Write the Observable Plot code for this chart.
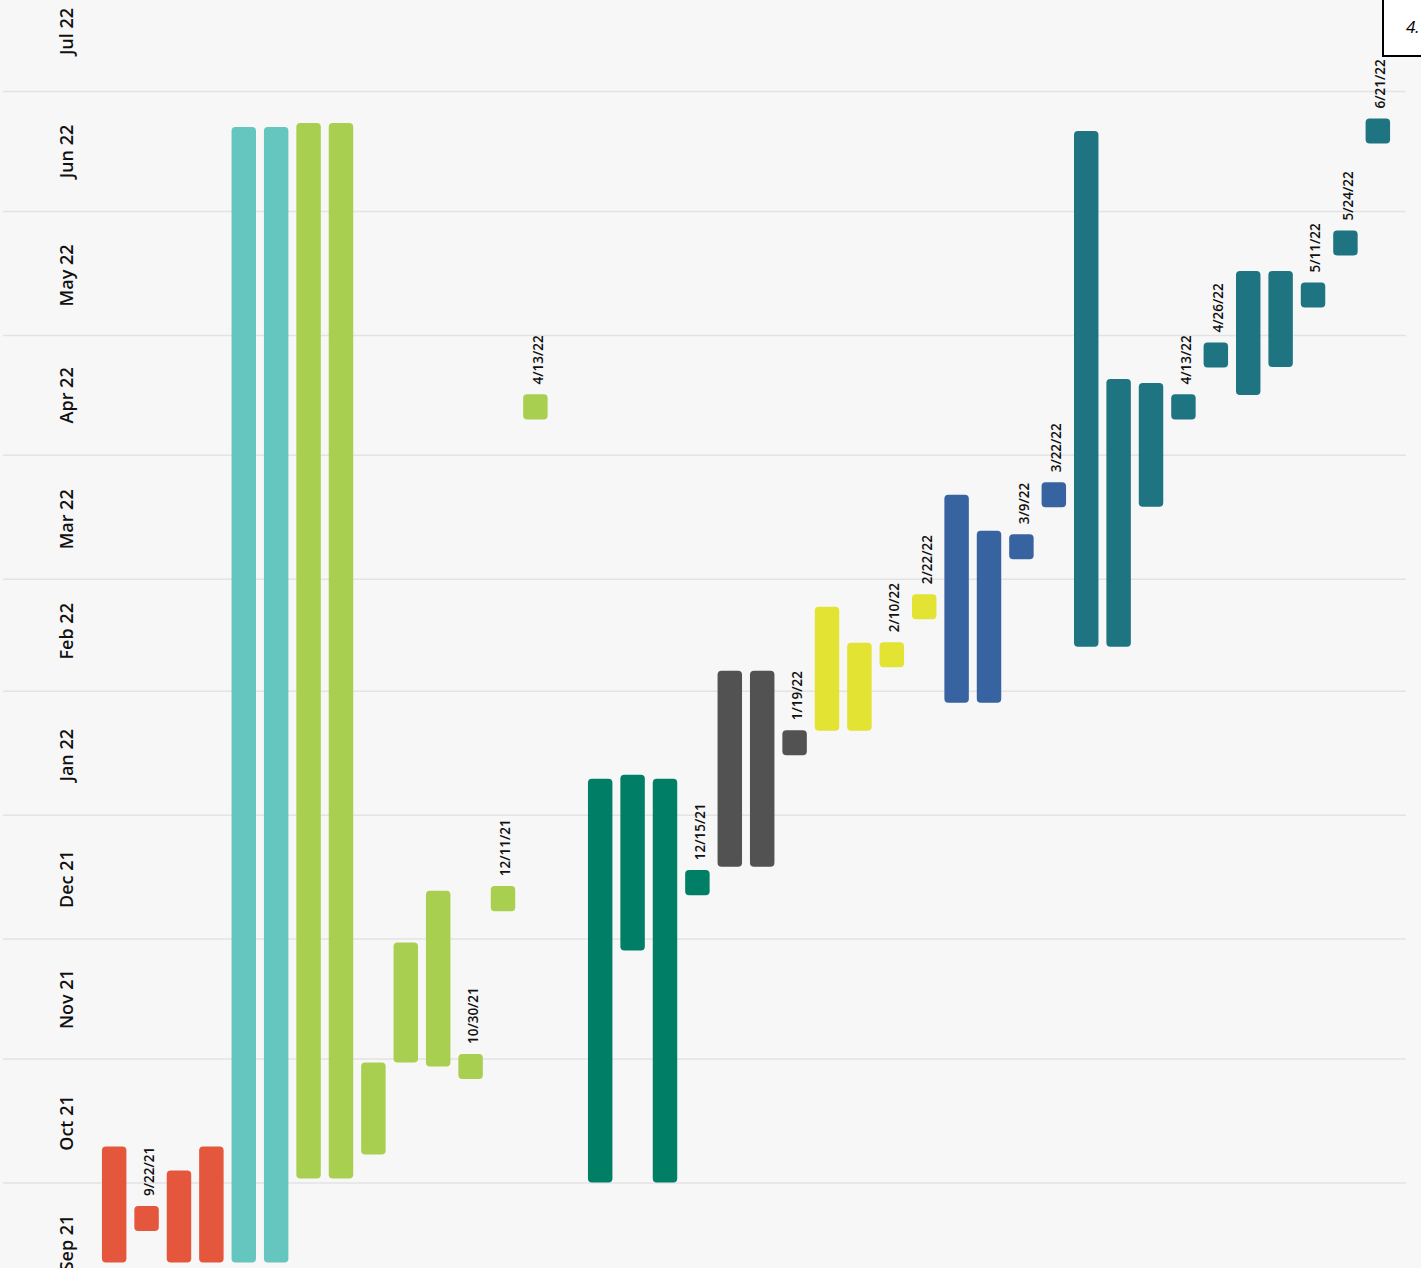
<!DOCTYPE html>
<html>
<head>
<meta charset="utf-8">
<script src="https://cdn.jsdelivr.net/npm/d3@7"></script>
<script src="https://cdn.jsdelivr.net/npm/@observablehq/plot@0.6"></script>
<style>
  html, body { margin: 0; padding: 0; background: #f7f7f7; overflow: hidden; width: 1421px; height: 1268px; }
  #chart { position: absolute; left: 0; top: 0; }
  #note { position: absolute; left: 1382px; top: -2px; width: 80px; height: 59px; box-sizing: border-box;
          border: 2px solid #000; background: #fff; font: italic 17px "Open Sans", sans-serif;
          padding: 15px 0 0 22px; color: #000; }
</style>
</head>
<body>
<div id="chart"></div>
<div id="note">4.</div>
<script>
// ---- Data ----
// Column order (left to right); "gap" is an empty column
const slotOrder = ["r1","r2","r3","r4","c1","c2","g1","g2","g3","g4","g5","g6","g7","g8","gap",
  "d1","d2","d3","d4","k1","k2","k3","y1","y2","y3","y4","b1","b2","b3","b4",
  "t1","t2","t3","t4","t5","t6","t7","t8","t9","t10"];

const groupNames  = ["red","cyan","green","dkgreen","gray","yellow","blue","teal"];
const groupColors = ["#e4573d","#65c6c0","#a8cf4f","#007f66","#525252","#e2e332","#3764a0","#1f7482"];

// Task bars
const barTask  = ["r1","r3","r4","c1","c2","g1","g2","g3","g4","g5","d1","d2","d3","k1","k2","y1","y2","b1","b2","t1","t2","t3","t6","t7"];
const barGroup = ["red","red","red","cyan","cyan","green","green","green","green","green","dkgreen","dkgreen","dkgreen","gray","gray","yellow","yellow","blue","blue","teal","teal","teal","teal","teal"];
const barStart = ["2021-09-11","2021-09-11","2021-09-11","2021-09-11","2021-09-11","2021-10-02","2021-10-02","2021-10-08","2021-10-31","2021-10-30",
  "2021-10-01","2021-11-28","2021-10-01","2021-12-19","2021-12-19","2022-01-22","2022-01-22","2022-01-29","2022-01-29",
  "2022-02-12","2022-02-12","2022-03-19","2022-04-16","2022-04-23"];
const barEnd   = ["2021-10-10","2021-10-04","2021-10-10","2022-06-22","2022-06-22","2022-06-23","2022-06-23","2021-10-31","2021-11-30","2021-12-13",
  "2022-01-10","2022-01-11","2022-01-10","2022-02-06","2022-02-06","2022-02-22","2022-02-13","2022-03-22","2022-03-13",
  "2022-06-21","2022-04-20","2022-04-19","2022-05-17","2022-05-17"];

// Milestones
const msTask  = ["r2","g6","g7","g8","d4","k3","y3","y4","b3","b4","t4","t5","t8","t9","t10"];
const msGroup = ["red","green","green","green","dkgreen","gray","yellow","yellow","blue","blue","teal","teal","teal","teal","teal"];
const msDate  = ["2021-09-22","2021-10-30","2021-12-11","2022-04-13","2021-12-15","2022-01-19","2022-02-10","2022-02-22","2022-03-09","2022-03-22",
  "2022-04-13","2022-04-26","2022-05-11","2022-05-24","2022-06-21"];
const msLabel = ["9/22/21","10/30/21","12/11/21","4/13/22","12/15/21","1/19/22","2/10/22","2/22/22","3/9/22","3/22/22",
  "4/13/22","4/26/22","5/11/22","5/24/22","6/21/22"];

// Month axis
const monthStarts = ["2021-09-01","2021-10-01","2021-11-01","2021-12-01","2022-01-01","2022-02-01","2022-03-01","2022-04-01","2022-05-01","2022-06-01","2022-07-01"];
const monthLabels = ["Sep 21","Oct 21","Nov 21","Dec 21","Jan 22","Feb 22","Mar 22","Apr 22","May 22","Jun 22","Jul 22"];
const gridStarts  = ["2021-10-01","2021-11-01","2021-12-01","2022-01-01","2022-02-01","2022-03-01","2022-04-01","2022-05-01","2022-06-01","2022-07-01"];

// ---- Build tables ----
const DAY = 864e5;
const bars = barTask.map((t, i) => ({task: t, group: barGroup[i], start: new Date(barStart[i]), end: new Date(barEnd[i])}));
const ms = msTask.map((t, i) => ({task: t, group: msGroup[i], date: new Date(msDate[i]), label: msLabel[i]}));
const months = monthStarts.map((m, i) => ({mid: new Date(+new Date(m) + 15 * DAY), label: monthLabels[i]}));
const grid = gridStarts.map(d => new Date(d));
const HALF = 3.13 * DAY; // milestone half-size

const chart = Plot.plot({
  width: 1421,
  height: 1268,
  marginTop: 0, marginBottom: 0, marginLeft: 3, marginRight: 15,
  style: {background: "#f7f7f7", fontFamily: "'Open Sans', sans-serif", color: "#111"},
  x: {type: "band", domain: slotOrder, range: [94, 1398], padding: 0.245, round: false, axis: null},
  y: {type: "utc", domain: [new Date("2021-09-09T14:40Z"), new Date("2022-07-23T18:30Z")], axis: null},
  color: {domain: groupNames, range: groupColors, legend: false},
  marks: [
    Plot.ruleY(grid, {y: d => d, stroke: "#e3e3e3", strokeWidth: 1.5}),
    Plot.text(months, {y: "mid", text: "label", frameAnchor: "left", dx: 64, rotate: -90,
      textAnchor: "middle", lineAnchor: "middle", fontSize: 18, fontWeight: 600, fill: "#111"}),
    Plot.barY(bars, {x: "task", y1: "start", y2: "end", fill: "group", rx: 4}),
    Plot.barY(ms, {x: "task", y1: d => new Date(+d.date - HALF), y2: d => new Date(+d.date + HALF), fill: "group", rx: 4}),
    Plot.text(ms, {x: "task", y: "date", text: "label", rotate: -90, textAnchor: "start", lineAnchor: "middle",
      dx: 2.5, dy: -23, fontSize: 13.5, fontWeight: 600, fill: "#111"})
  ]
});
document.getElementById("chart").appendChild(chart);
</script>
</body>
</html>
